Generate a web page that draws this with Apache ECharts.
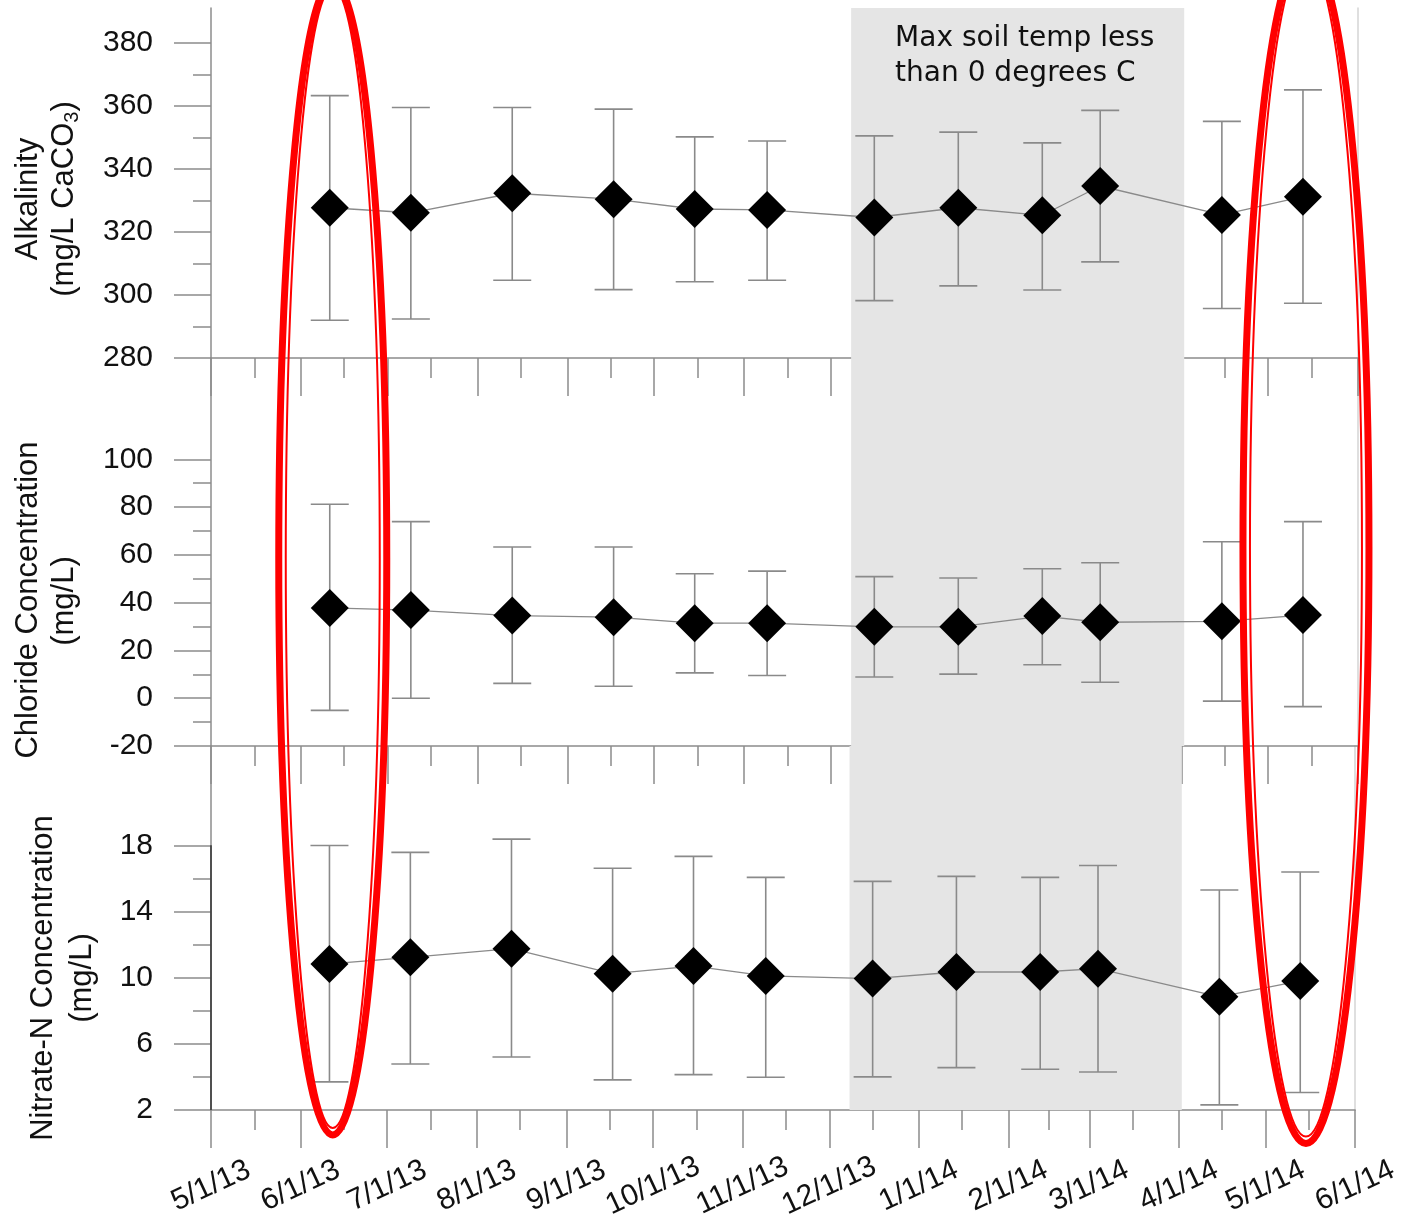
<!DOCTYPE html>
<html>
<head>
<meta charset="utf-8">
<title>Alkalinity, chloride and nitrate-N by sampling date</title>
<script src="https://cdn.jsdelivr.net/npm/echarts@6/dist/echarts.min.js"></script>
<style>
    html, body { margin: 0; padding: 0; background: #fff; }
    #main { width: 1402px; height: 1222px; }
</style>
</head>
<body>
<div id="main"></div>
<script type="text/javascript">
    // sampling dates
    var dates = ['2013-06-11', '2013-07-09', '2013-08-13', '2013-09-17', '2013-10-15', '2013-11-09',
                 '2013-12-16', '2014-01-14', '2014-02-12', '2014-03-04', '2014-04-15', '2014-05-13'];

    // alkalinity (mg/L CaCO3): mean and error bar ends
    var alkMean = [327.7, 326.1, 332.3, 330.4, 327.3, 327.0, 324.6, 327.7, 325.3, 334.6, 325.4, 331.2];
    var alkHigh = [363.3, 359.5, 359.5, 359.0, 350.2, 348.9, 350.5, 351.7, 348.3, 358.6, 355.1, 365.1];
    var alkLow  = [292.0, 292.4, 304.7, 301.7, 304.2, 304.7, 298.2, 302.9, 301.6, 310.5, 295.7, 297.4];

    // chloride (mg/L)
    var clMean = [37.8, 36.9, 34.6, 33.9, 31.4, 31.4, 29.9, 29.9, 34.4, 31.8, 32.2, 34.8];
    var clHigh = [81.2, 73.9, 63.3, 63.3, 52.1, 53.2, 50.9, 50.3, 54.2, 56.7, 65.5, 73.9];
    var clLow  = [-5.1, 0.0, 6.2, 5.0, 10.6, 9.5, 8.9, 10.1, 14.0, 6.7, -1.2, -3.5];

    // nitrate-N (mg/L)
    var no3Mean = [10.83, 11.23, 11.75, 10.24, 10.70, 10.10, 9.94, 10.34, 10.34, 10.54, 8.84, 9.80];
    var no3High = [17.99, 17.57, 18.37, 16.61, 17.33, 16.06, 15.82, 16.12, 16.06, 16.78, 15.30, 16.38];
    var no3Low  = [3.70, 4.78, 5.20, 3.82, 4.14, 3.98, 4.00, 4.56, 4.46, 4.30, 2.31, 3.06];

    // tick values
    var monthTicks = ['2013-05-01', '2013-06-01', '2013-07-01', '2013-08-01', '2013-09-01', '2013-10-01', '2013-11-01',
                      '2013-12-01', '2014-01-01', '2014-02-01', '2014-03-01', '2014-04-01', '2014-05-01', '2014-06-01'];
    var midTicks = ['2013-05-16', '2013-06-16', '2013-07-16', '2013-08-16', '2013-09-16', '2013-10-16', '2013-11-16',
                    '2013-12-16', '2014-01-16', '2014-02-15', '2014-03-16', '2014-04-16', '2014-05-16'];
    var alkTicks = [280, 300, 320, 340, 360, 380];
    var alkMinor = [290, 310, 330, 350, 370];
    var clTicks = [-20, 0, 20, 40, 60, 80, 100];
    var clMinor = [-10, 10, 30, 50, 70, 90];
    var no3Ticks = [2, 6, 10, 14, 18];
    var no3Minor = [4, 8, 12, 16];

    // frozen-soil period and the two circled samples
    var frozen = ['2013-12-08', '2014-04-02'];
    var circled = ['2013-06-11', '2014-05-13'];

    function ts(s) {
        var p = s.split('-');
        return new Date(+p[0], +p[1] - 1, +p[2]).getTime();
    }
    function mdY(v) {
        var d = new Date(v);
        return (d.getMonth() + 1) + '/' + d.getDate() + '/' + String(d.getFullYear()).slice(2);
    }

    var FONT = '"Liberation Sans", Arial, sans-serif';
    var AXIS = '#8c8c8c';
    var BAR = '#8a8a8a';

    var panels = [
        {mean: alkMean, high: alkHigh, low: alkLow, ticks: alkTicks, minor: alkMinor, min: 280, max: 391.1, top: 8, height: 350},
        {mean: clMean, high: clHigh, low: clLow, ticks: clTicks, minor: clMinor, min: -20, max: 142.4, top: 358, height: 388},
        {mean: no3Mean, high: no3High, low: no3Low, ticks: no3Ticks, minor: no3Minor, min: 2, max: 24.0, top: 746, height: 368}
    ];

    var xMin = ts(monthTicks[0]), xMax = ts(monthTicks[monthTicks.length - 1]);
    var monthTs = monthTicks.map(ts), midTs = midTicks.map(ts);
    var dateTs = dates.map(ts);

    var grids = [], xAxes = [], yAxes = [], series = [];

    panels.forEach(function (p, g) {
        grids.push({left: 211, right: 44, top: p.top, height: p.height});

        // month ticks (+ labels on the bottom panel); x values are timestamps
        xAxes.push({
            gridIndex: g, type: 'value', min: xMin, max: xMax, position: 'bottom',
            axisLine: {onZero: false, lineStyle: {color: AXIS, width: 1.5}},
            axisTick: {customValues: monthTs, length: 38, lineStyle: {color: AXIS, width: 1.5}},
            axisLabel: {
                show: g === 2, customValues: monthTs, formatter: mdY,
                rotate: 25, align: 'center', verticalAlign: 'middle', margin: 76,
                fontFamily: FONT, fontSize: 30, color: '#111'
            },
            splitLine: {show: false}
        });
        // mid-month ticks
        xAxes.push({
            gridIndex: g, type: 'value', min: xMin, max: xMax, position: 'bottom',
            axisLine: {show: false, onZero: false},
            axisTick: {customValues: midTs, length: 20, lineStyle: {color: AXIS, width: 1.5}},
            axisLabel: {show: false},
            splitLine: {show: false}
        });

        yAxes.push({
            gridIndex: g, type: 'value', min: p.min, max: p.max, position: 'left',
            axisLine: {show: true, onZero: false, lineStyle: {color: AXIS, width: 1.5}},
            axisTick: {show: true, customValues: p.ticks, length: 37, lineStyle: {color: AXIS, width: 1.5}},
            axisLabel: {customValues: p.ticks, margin: 58, fontFamily: FONT, fontSize: 30, color: '#111'},
            splitLine: {show: false}
        });
        yAxes.push({
            gridIndex: g, type: 'value', min: p.min, max: p.max, position: 'left',
            axisLine: {show: false, onZero: false},
            axisTick: {show: true, customValues: p.minor, length: 18, lineStyle: {color: AXIS, width: 1.5}},
            axisLabel: {show: false},
            splitLine: {show: false}
        });
        yAxes.push({
            gridIndex: g, type: 'value', min: p.min, max: p.max, position: 'right',
            axisLine: {show: true, onZero: false, lineStyle: {color: '#d4d4d4', width: 1.5}},
            axisTick: {show: false},
            axisLabel: {show: false},
            splitLine: {show: false}
        });

        var pts = dateTs.map(function (d, i) { return [d, p.mean[i]]; });

        // shaded frozen period
        series.push({
            type: 'line', xAxisIndex: 2 * g, yAxisIndex: 3 * g, data: pts, z: 0, silent: true,
            symbol: 'none', lineStyle: {opacity: 0},
            markArea: {
                silent: true,
                itemStyle: {color: '#e5e5e5'},
                label: {
                    show: g === 0, position: [44, 13],
                    formatter: 'Max soil temp less\nthan 0 degrees C',
                    fontFamily: '"DejaVu Sans", sans-serif', fontSize: 28, lineHeight: 35, color: '#111'
                },
                data: [[{xAxis: ts(frozen[0])}, {xAxis: ts(frozen[1])}]]
            }
        });

        // error bars
        series.push({
            type: 'custom', xAxisIndex: 2 * g, yAxisIndex: 3 * g, z: 2, silent: true,
            data: dateTs.map(function (d, i) { return [d, p.low[i], p.high[i]]; }),
            encode: {x: 0, y: [1, 2]},
            renderItem: function (params, api) {
                var x = api.value(0);
                var lo = api.coord([x, api.value(1)]);
                var hi = api.coord([x, api.value(2)]);
                var w = 19;
                var st = {stroke: BAR, lineWidth: 1.6};
                return {
                    type: 'group',
                    children: [
                        {type: 'line', shape: {x1: hi[0], y1: hi[1], x2: lo[0], y2: lo[1]}, style: st},
                        {type: 'line', shape: {x1: hi[0] - w, y1: hi[1], x2: hi[0] + w, y2: hi[1]}, style: st},
                        {type: 'line', shape: {x1: lo[0] - w, y1: lo[1], x2: lo[0] + w, y2: lo[1]}, style: st}
                    ]
                };
            }
        });

        // means
        series.push({
            type: 'line', xAxisIndex: 2 * g, yAxisIndex: 3 * g, z: 3, silent: true,
            data: pts,
            symbol: 'diamond', symbolSize: 38,
            itemStyle: {color: '#000'},
            lineStyle: {color: BAR, width: 1.3}
        });
    });

    function title(id, x, y, text, rich) {
        return {
            id: id, type: 'text', x: x, y: y, rotation: Math.PI / 2, silent: true,
            style: {
                text: text, rich: rich, textAlign: 'center', textVerticalAlign: 'middle',
                fontFamily: FONT, fontSize: 31, fill: '#111'
            }
        };
    }
    var sub = {
        a: {fontFamily: FONT, fontSize: 31, lineHeight: 36, color: '#111'},
        s: {fontFamily: FONT, fontSize: 20, lineHeight: 36, verticalAlign: 'bottom', color: '#111'}
    };

    var myChart = echarts.init(document.getElementById('main'));
    myChart.setOption({
        animation: false,
        backgroundColor: '#fff',
        grid: grids,
        xAxis: xAxes,
        yAxis: yAxes,
        series: series,
        graphic: [
            title('t1', 28, 199, 'Alkalinity'),
            title('t2', 64, 199, '{a|(mg/L CaCO}{s|3}{a|)}', sub),
            title('t3', 28, 600, 'Chloride Concentration'),
            title('t4', 64, 601, '(mg/L)'),
            title('t5', 43, 978, 'Nitrate-N Concentration'),
            title('t6', 82, 978, '(mg/L)')
        ]
    });

    var extra = [];

    // darker stretch of the nitrate axis between its top and bottom labels
    var segTop = myChart.convertToPixel({xAxisIndex: 4, yAxisIndex: 6}, [xMin, no3Ticks[no3Ticks.length - 1]]);
    var segBot = myChart.convertToPixel({xAxisIndex: 4, yAxisIndex: 6}, [xMin, no3Ticks[0]]);
    extra.push({
        id: 'no3Axis', type: 'line', silent: true, z: 50,
        shape: {x1: segTop[0], y1: segTop[1], x2: segBot[0], y2: segBot[1]},
        style: {stroke: '#333', lineWidth: 1.5}
    });

    // red double rings around the first and last samples
    var rings = [{dx: 3, cy: 558, rx: 57.5, ry: 580.5}, {dx: 3, cy: 547, rx: 66.5, ry: 600}];
    rings.forEach(function (r, i) {
        var cx = myChart.convertToPixel({xAxisIndex: 0}, ts(circled[i])) + r.dx;
        extra.push({
            id: 'ringOuter' + i, type: 'ellipse', silent: true, z: 100,
            shape: {cx: cx, cy: r.cy, rx: r.rx - 3.5, ry: r.ry - 3.5},
            style: {fill: 'none', stroke: '#ff0000', lineWidth: 7}
        });
        extra.push({
            id: 'ringInner' + i, type: 'ellipse', silent: true, z: 100,
            shape: {cx: cx, cy: r.cy, rx: r.rx - 10.5, ry: r.ry - 10.5},
            style: {fill: 'none', stroke: '#ff0000', lineWidth: 2}
        });
    });
    myChart.setOption({graphic: extra});
</script>
</body>
</html>
